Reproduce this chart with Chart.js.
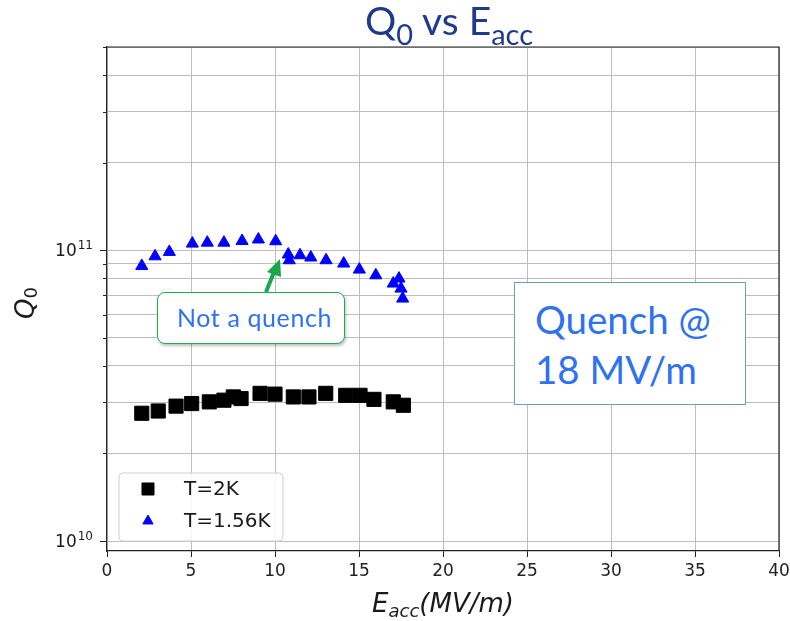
<!DOCTYPE html>
<html lang="en">
<head>
    <meta charset="UTF-8">
    <title>Q0 vs Eacc</title>
    <script src="https://cdn.jsdelivr.net/npm/chart.js"></script>
    <style>
        body { margin: 0; background: #fff; }
        #wrap { position: relative; width: 790px; height: 621px; overflow: hidden; }
        #chart { position: absolute; left: 0; top: 0; }
        #title {
            position: absolute; left: 249px; top: -3px; width: 400px; text-align: center;
            font-family: Lato, sans-serif; font-size: 39px; color: #1f3a8c; line-height: 46px;
        }
        #title sub { font-size: 29px; vertical-align: -10px; line-height: 0; }
        .note {
            position: absolute; background: #fff; color: #2f72f0; font-family: Lato, sans-serif;
            box-sizing: border-box;
        }
        #notQuench {
            left: 157px; top: 292px; width: 188px; height: 52px;
            border: 1.6px solid #1fae4e; border-radius: 8px;
            box-shadow: 1px 2px 3px rgba(0,0,0,0.25);
            font-size: 25px; line-height: 48px; padding-left: 19px; letter-spacing: 0.6px;
        }
        #quench {
            left: 514px; top: 282px; width: 232px; height: 123px;
            border: 1.4px solid #6d9fb3;
            font-size: 38.5px; line-height: 50px; padding: 11px 0 0 20px;
        }
        #arrow { position: absolute; left: 0; top: 0; }
    </style>
</head>
<body>
<div id="wrap">
    <canvas id="chart" width="790" height="621"></canvas>
    <div id="title">Q<sub>0</sub> vs E<sub>acc</sub></div>
    <svg id="arrow" width="790" height="621">
        <line x1="266" y1="292" x2="274" y2="272" stroke="#1aa64a" stroke-width="4"/>
        <polygon points="280,259 267,272 281,277" fill="#1aa64a"/>
    </svg>
    <div class="note" id="notQuench">Not a quench</div>
    <div class="note" id="quench">Quench @<br>18 MV/m</div>
</div>

<script>
    // T = 2K (squares)
    const eacc2K = [2.07, 3.05, 4.11, 5.04, 6.09, 6.96, 7.52, 7.98, 9.11, 10.0, 11.09, 12.02, 13.02, 14.21, 15.06, 15.89, 17.04, 17.64];
    const q2K = [2.75e10, 2.80e10, 2.91e10, 2.97e10, 3.01e10, 3.05e10, 3.13e10, 3.09e10, 3.22e10, 3.20e10, 3.13e10, 3.13e10, 3.22e10, 3.17e10, 3.17e10, 3.07e10, 3.01e10, 2.93e10];

    // T = 1.56K (triangles)
    const eacc156K = [2.07, 2.86, 3.71, 5.08, 5.97, 6.96, 8.04, 9.01, 10.04, 10.79, 10.85, 11.49, 12.13, 13.04, 14.09, 15.02, 16.0, 17.04, 17.38, 17.5, 17.6];
    const q156K = [8.83e10, 9.53e10, 9.87e10, 1.054e11, 1.062e11, 1.062e11, 1.076e11, 1.089e11, 1.074e11, 9.67e10, 9.24e10, 9.61e10, 9.44e10, 9.24e10, 9.0e10, 8.58e10, 8.20e10, 7.68e10, 7.99e10, 7.38e10, 6.82e10];

    const seriesLabels = ['T=2K', 'T=1.56K'];
    const xTicks = [0, 5, 10, 15, 20, 25, 30, 35, 40];
    const yTicks = [1e10, 2e10, 3e10, 4e10, 5e10, 6e10, 7e10, 8e10, 9e10, 1e11, 2e11, 3e11, 4e11, 5e11];

    const toPoints = (xs, ys) => xs.map((x, i) => ({ x: x, y: ys[i] }));
    const isDecade = (v) => { const e = Math.log10(v); return Math.abs(e - Math.round(e)) < 1e-9; };

    // Axis titles with subscripts, 10^n labels, minor ticks and the top/right spines
    const axisTitles = {
        id: 'axisTitles',
        afterDraw(chart) {
            const ctx = chart.ctx, a = chart.chartArea;
            const ys = chart.scales.y;
            ctx.save();
            ctx.strokeStyle = '#222';
            ctx.lineWidth = 1.2;
            ctx.beginPath();
            ctx.moveTo(a.left, a.top); ctx.lineTo(a.right, a.top); ctx.lineTo(a.right, a.bottom);
            ctx.stroke();

            // short minor ticks on the log axis
            ctx.lineWidth = 1;
            ctx.beginPath();
            yTicks.filter(v => !isDecade(v)).forEach(v => {
                const py = Math.round(ys.getPixelForValue(v)) + 0.5;
                ctx.moveTo(a.left - 4, py); ctx.lineTo(a.left, py);
            });
            ctx.stroke();

            ctx.fillStyle = '#1a1a1a';
            ctx.textBaseline = 'alphabetic';

            // y tick labels 10^n
            ctx.textAlign = 'right';
            yTicks.filter(isDecade).forEach(v => {
                const py = ys.getPixelForValue(v);
                const ex = String(Math.round(Math.log10(v)));
                ctx.font = '12px "DejaVu Sans"';
                const wEx = ctx.measureText(ex).width;
                ctx.fillText(ex, a.left - 14, py - 1);
                ctx.font = '17px "DejaVu Sans"';
                ctx.fillText('10', a.left - 14 - wEx - 1, py + 6);
            });

            ctx.textAlign = 'left';
            const big = 'italic 26px "DejaVu Sans"', small = 'italic 18px "DejaVu Sans"';
            ctx.font = big;
            const wE = ctx.measureText('E').width, wP = ctx.measureText('(MV/m)').width, wQ = ctx.measureText('Q').width;
            ctx.font = small;
            const wS = ctx.measureText('acc').width, w0 = ctx.measureText('0').width;

            let x = (a.left + a.right) / 2 - (wE + wS + wP) / 2;
            const y = 612;
            ctx.font = big; ctx.fillText('E', x, y); x += wE;
            ctx.font = small; ctx.fillText('acc', x, y + 5); x += wS;
            ctx.font = big; ctx.fillText('(MV/m)', x, y);

            ctx.translate(34, (a.top + a.bottom) / 2 + 4);
            ctx.rotate(-Math.PI / 2);
            let u = -(wQ + w0) / 2;
            ctx.font = big; ctx.fillText('Q', u, 0); u += wQ;
            ctx.font = '18px "DejaVu Sans"'; ctx.fillText('0', u, 3);
            ctx.restore();
        }
    };

    // Legend box inside the lower-left corner of the plot
    const innerLegend = {
        id: 'innerLegend',
        afterDraw(chart) {
            const ctx = chart.ctx, a = chart.chartArea;
            const bx = a.left + 12, by = a.bottom - 78, bw = 164, bh = 68;
            ctx.save();
            ctx.fillStyle = 'rgba(255,255,255,0.85)';
            ctx.strokeStyle = '#d0d0d0';
            ctx.lineWidth = 1;
            ctx.beginPath();
            ctx.roundRect(bx, by, bw, bh, 4);
            ctx.fill();
            ctx.stroke();
            ctx.font = '20px "DejaVu Sans"';
            ctx.textBaseline = 'middle';
            chart.data.datasets.forEach((ds, i) => {
                const cy = by + 16 + i * 32;
                const style = { pointStyle: ds.pointStyle, radius: ds.pointRadius * 0.85, rotation: 0, borderWidth: 1 };
                ctx.fillStyle = ds.backgroundColor;
                ctx.strokeStyle = ds.borderColor;
                Chart.helpers.drawPoint(ctx, style, bx + 29, cy);
                ctx.fillStyle = '#1a1a1a';
                ctx.fillText(ds.label, bx + 65, cy + 1);
            });
            ctx.restore();
        }
    };

    const ctx = document.getElementById('chart').getContext('2d');
    const chart = new Chart(ctx, {
        type: 'scatter',
        data: {
            datasets: [{
                label: seriesLabels[0],
                data: toPoints(eacc2K, q2K),
                pointStyle: 'rect',
                pointRadius: 10,
                backgroundColor: '#000000',
                borderColor: '#000000',
                borderWidth: 1
            }, {
                label: seriesLabels[1],
                data: toPoints(eacc156K, q156K),
                pointStyle: 'triangle',
                pointRadius: 7,
                backgroundColor: '#0000ff',
                borderColor: '#0000ff',
                borderWidth: 1
            }]
        },
        options: {
            responsive: false,
            animation: false,
            events: [],
            layout: { padding: { top: 47, right: 11, bottom: 0, left: 0 } },
            plugins: {
                legend: { display: false },
                tooltip: { enabled: false }
            },
            scales: {
                x: {
                    type: 'linear',
                    min: 0,
                    max: 40,
                    afterFit: (s) => { s.height = 70; s.paddingRight = 0; s.paddingLeft = 0; },
                    afterBuildTicks: (s) => { s.ticks = xTicks.map(v => ({ value: v })); },
                    grid: { color: '#bdbdbd', lineWidth: 1, tickLength: 6, tickColor: '#222' },
                    border: { color: '#222', width: 1.2 },
                    ticks: { color: '#222', font: { family: 'DejaVu Sans', size: 17 }, padding: 4, maxRotation: 0 }
                },
                y: {
                    type: 'logarithmic',
                    min: 9.24e9,
                    max: 5e11,
                    afterFit: (s) => { s.width = 107; },
                    afterBuildTicks: (s) => { s.ticks = yTicks.map(v => ({ value: v })); },
                    grid: {
                        color: '#bdbdbd', lineWidth: 1, tickLength: 7,
                        tickColor: (c) => (c.tick && isDecade(c.tick.value)) ? '#222' : 'rgba(0,0,0,0)'
                    },
                    border: { color: '#222', width: 1.2 },
                    ticks: { autoSkip: false, callback: () => '' }
                }
            }
        },
        plugins: [axisTitles, innerLegend]
    });
</script>
</body>
</html>
